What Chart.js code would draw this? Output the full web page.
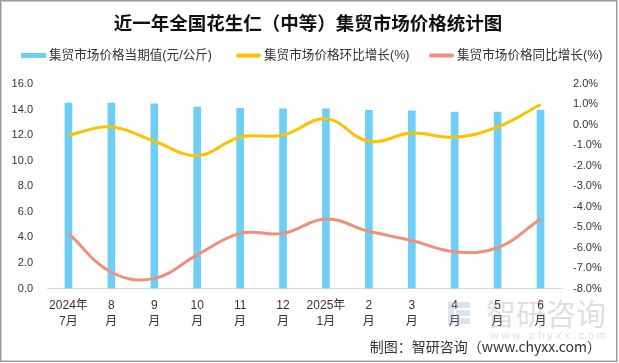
<!DOCTYPE html>
<html>
<head>
<meta charset="utf-8">
<script src="https://cdn.jsdelivr.net/npm/chart.js@4"></script>
<style>
  html, body { margin: 0; padding: 0; background: #fff; }
  #wrap { width: 619px; height: 363px; position: relative; }
</style>
</head>
<body>
<div id="wrap"><canvas id="chart" width="619" height="363"></canvas></div>
<script>
"use strict"

const titleText = '近一年全国花生仁（中等）集贸市场价格统计图';
const footerText = '制图：智研咨询（www.chyxx.com）';

// categories (two-line labels as on the picture)
const months = [
  ['2024年', '7月'], ['8', '月'], ['9', '月'], ['10', '月'], ['11', '月'], ['12', '月'],
  ['2025年', '1月'], ['2', '月'], ['3', '月'], ['4', '月'], ['5', '月'], ['6', '月']
];

// series
const priceLabel = '集贸市场价格当期值(元/公斤)';
const priceValues = [14.5, 14.5, 14.45, 14.2, 14.1, 14.05, 14.05, 13.95, 13.9, 13.8, 13.8, 13.95];

const momLabel = '集贸市场价格环比增长(%)';
const momValues = [-0.5, -0.1, -0.8, -1.5, -0.6, -0.5, 0.3, -0.8, -0.4, -0.6, -0.1, 1.0];

const yoyLabel = '集贸市场价格同比增长(%)';
const yoyValues = [-5.3, -7.2, -7.5, -6.35, -5.3, -5.3, -4.6, -5.2, -5.65, -6.2, -6.0, -4.6];

// axis ranges
const leftMin = 0, leftMax = 16, leftStep = 2;
const rightMin = -8, rightMax = 2, rightStep = 1;

const blue = '#6DCFF6';
const gold = '#FFC000';
const salmon = '#EE907B';
const fontFamily = '"Liberation Sans", "Noto Sans CJK SC", sans-serif';
const cjkFamily = '"Noto Sans CJK SC", sans-serif';

// title, legend, footer, watermark and frame
const decorPlugin = {
  id: 'decor',
  afterDraw(chart) {
    const ctx = chart.ctx;
    ctx.save();

    // watermark
    ctx.globalAlpha = 0.28;
    ctx.fillStyle = '#8a8a8a';
    ctx.font = '30px ' + cjkFamily;
    ctx.textAlign = 'right';
    ctx.textBaseline = 'middle';
    ctx.fillText('智研咨询', 606, 314);
    ctx.font = '11px ' + fontFamily;
    ctx.fillText('w w w . c h y x x . c o m', 606, 336);
    ctx.fillStyle = '#7f9fbf';
    ctx.fillRect(448, 302, 6, 22);
    ctx.fillRect(456, 302, 14, 6);
    ctx.fillRect(456, 310, 14, 6);
    ctx.fillRect(456, 318, 14, 6);
    ctx.globalAlpha = 1;

    // title
    ctx.fillStyle = '#111';
    ctx.font = 'bold 18.5px ' + cjkFamily;
    ctx.textAlign = 'center';
    ctx.textBaseline = 'middle';
    ctx.fillText(titleText, 308, 23);

    // legend
    ctx.font = '12.6px ' + fontFamily;
    ctx.textAlign = 'left';
    const starts = [21, 236, 429];
    const swatch = 25, gapIn = 3;
    const ly = 55.5;
    chart.data.datasets.forEach((ds, i) => {
      const bar = ds.type === 'bar';
      const color = bar ? ds.backgroundColor : ds.borderColor;
      const x = starts[i];
      if (bar) {
        ctx.fillStyle = color;
        ctx.fillRect(x, ly - 2.5, swatch, 5);
      } else {
        ctx.strokeStyle = color;
        ctx.lineWidth = 4;
        ctx.lineCap = 'round';
        ctx.beginPath();
        ctx.moveTo(x + 2, ly);
        ctx.lineTo(x + swatch - 2, ly);
        ctx.stroke();
      }
      ctx.fillStyle = '#333';
      ctx.fillText(ds.label, x + swatch + gapIn, ly);
    });

    // footer
    ctx.font = '14px ' + cjkFamily;
    ctx.textAlign = 'right';
    ctx.fillStyle = '#333';
    ctx.fillText(footerText, 601, 347);

    // frame
    ctx.strokeStyle = '#9a9a9a';
    ctx.lineWidth = 1.5;
    ctx.strokeRect(0.75, 0.75, 616, 360.5);
    ctx.restore();
  }
};

const ctxC = document.getElementById('chart').getContext('2d');
const myChart = new Chart(ctxC, {
  type: 'bar',
  data: {
    labels: months,
    datasets: [
      {
        type: 'bar',
        label: priceLabel,
        data: priceValues,
        backgroundColor: blue,
        barThickness: 7,
        yAxisID: 'y',
        order: 3
      },
      {
        type: 'line',
        label: momLabel,
        data: momValues,
        borderColor: gold,
        backgroundColor: gold,
        borderWidth: 3,
        pointRadius: 0,
        tension: 0.4,
        yAxisID: 'y1',
        order: 1
      },
      {
        type: 'line',
        label: yoyLabel,
        data: yoyValues,
        borderColor: salmon,
        backgroundColor: salmon,
        borderWidth: 3,
        pointRadius: 0,
        tension: 0.4,
        yAxisID: 'y1',
        order: 2
      }
    ]
  },
  options: {
    responsive: false,
    animation: false,
    devicePixelRatio: 1,
    layout: {
      padding: { top: 84, left: 12, right: 17, bottom: 24 }
    },
    plugins: {
      legend: { display: false },
      title: { display: false },
      tooltip: { enabled: false }
    },
    scales: {
      x: {
        grid: { display: false, drawTicks: false },
        border: { display: true, color: '#d9d9d9', width: 1 },
        ticks: {
          color: '#333',
          padding: 9,
          maxRotation: 0,
          autoSkip: false,
          font: { family: fontFamily, size: 12, lineHeight: 1.35 }
        }
      },
      y: {
        position: 'left',
        min: leftMin,
        max: leftMax,
        grid: { display: false, drawTicks: false },
        border: { display: false },
        afterFit: scale => { scale.width = 35; },
        ticks: {
          stepSize: leftStep,
          color: '#333',
          padding: 14,
          font: { family: fontFamily, size: 11 },
          callback: v => v.toFixed(1)
        }
      },
      y1: {
        position: 'right',
        min: rightMin,
        max: rightMax,
        grid: { display: false, drawTicks: false },
        border: { display: false },
        afterFit: scale => { scale.width = 40; },
        ticks: {
          stepSize: rightStep,
          color: '#333',
          padding: 11,
          font: { family: fontFamily, size: 11 },
          callback: v => v.toFixed(1) + '%'
        }
      }
    }
  },
  plugins: [decorPlugin]
});
</script>
</body>
</html>
